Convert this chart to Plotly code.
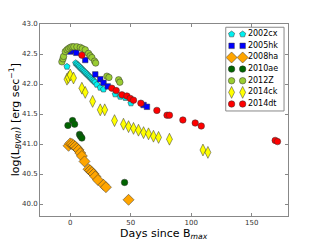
import plotly.graph_objects as go

# 2002cx
cx_x = [-2.7, 4.5, 5.5, 6.5, 7.5, 8.5, 9.5, 10.5, 11.5, 12.5, 13.5, 14.5, 15.5, 16.5, 17.5, 18.5, 19.5, 20.5, 22.0, 24.8, 27.5, 37.2, 41.3, 45.5, 50.2]
cx_y = [42.29, 42.35, 42.33, 42.31, 42.29, 42.27, 42.25, 42.23, 42.21, 42.19, 42.17, 42.15, 42.13, 42.11, 42.09, 42.07, 42.05, 42.03, 41.99, 41.94, 41.91, 41.83, 41.79, 41.77, 41.68]
# 2005hk
hk_x = [0.0, 2.7, 5.0, 12.4, 20.7, 24.8, 27.5, 31.0, 60.6, 63.4]
hk_y = [42.54, 42.56, 42.52, 42.40, 42.16, 42.08, 42.02, 41.96, 41.65, 41.62]
# 2008ha
ha_x = [-1.4, 0.0, 1.4, 2.7, 4.1, 5.5, 6.9, 8.3, 9.6, 11.8, 15.1, 16.5, 17.9, 19.3, 20.7, 22.9, 27.5, 29.5, 48.2]
ha_y = [40.97, 41.01, 41.00, 40.98, 40.96, 40.93, 40.90, 40.85, 40.80, 40.71, 40.58, 40.56, 40.53, 40.50, 40.46, 40.40, 40.32, 40.28, 40.07]
# 2010ae
ae_x = [-1.9, 1.9, 3.6, 7.7, 8.5, 9.6, 44.9]
ae_y = [41.31, 41.39, 41.33, 41.16, 41.13, 41.10, 40.36]
# 2012Z
z_x = [-6.9, -6.0, -5.5, -4.1, -2.7, -1.4, 0.0, 1.4, 3.0, 5.5, 8.3, 10.0, 12.4, 15.1, 16.5, 17.9, 20.1, 21.0, 30.3, 32.0, 40.0, 41.0]
z_y = [42.37, 42.42, 42.46, 42.54, 42.57, 42.59, 42.61, 42.62, 42.62, 42.62, 42.61, 42.59, 42.57, 42.51, 42.47, 42.44, 42.38, 42.35, 42.13, 42.11, 42.07, 42.03]
# 2014ck
ck_x = [-2.7, -1.5, 0.0, 2.7, 9.6, 12.4, 18.5, 24.8, 28.5, 36.6, 44.0, 48.2, 52.3, 56.4, 60.6, 64.7, 68.8, 73.0, 82.0, 109.7, 113.8]
ck_y = [42.08, 42.11, 42.15, 42.10, 41.93, 41.86, 41.71, 41.57, 41.57, 41.39, 41.33, 41.29, 41.26, 41.23, 41.19, 41.17, 41.13, 41.11, 41.08, 40.90, 40.86]
# 2014dt
dt_x = [9.6, 34.4, 38.0, 42.7, 46.8, 49.6, 52.3, 58.4, 71.6, 80.0, 82.0, 93.1, 103.3, 108.3, 169.4, 171.3]
dt_y = [42.48, 41.93, 41.89, 41.82, 41.80, 41.76, 41.73, 41.68, 41.56, 41.48, 41.48, 41.40, 41.35, 41.30, 41.06, 41.04]

names = ["2002cx", "2005hk", "2008ha", "2010ae", "2012Z", "2014ck", "2014dt"]
x_ticks = [0, 50, 100, 150]
y_ticks = [40.0, 40.5, 41.0, 41.5, 42.0, 42.5, 43.0]

styles = {
    "2002cx": ("#00f0f0", "pentagon", 6.5),
    "2005hk": ("#0000ff", "square", 5.5),
    "2008ha": ("#ffa500", "diamond", 8.5),
    "2010ae": ("#006400", "circle", 6.5),
    "2012Z": ("#9acd32", "circle", 6.5),
    "2014ck": ("#ffff00", "diamond-tall", 8.5),
    "2014dt": ("#ff0000", "circle", 6.5),
}
data = {
    "2002cx": (cx_x, cx_y), "2005hk": (hk_x, hk_y), "2008ha": (ha_x, ha_y),
    "2010ae": (ae_x, ae_y), "2012Z": (z_x, z_y), "2014ck": (ck_x, ck_y),
    "2014dt": (dt_x, dt_y),
}

fig = go.Figure()
for name in names:
    col, sym, sz = styles[name]
    xs, ys = data[name]
    fig.add_trace(go.Scatter(
        x=xs, y=ys, mode="markers", name=name, showlegend=False,
        marker=dict(color=col, symbol=sym, size=sz, line=dict(color="#333333", width=0.5)),
    ))

# matplotlib-style legend (two markers per entry) on an overlay axis
for name in names:
    col, sym, sz = styles[name]
    fig.add_trace(go.Scatter(
        x=[1, 2.9], y=[name, name], mode="markers", showlegend=False, hoverinfo="skip",
        xaxis="x2", yaxis="y2",
        marker=dict(color=col, symbol=sym, size=sz, line=dict(color="#333333", width=0.5)),
    ))
    fig.add_trace(go.Scatter(
        x=[3.8], y=[name], mode="text", text=[name], textposition="middle right",
        textfont=dict(family="DejaVu Sans", size=8, color="#000"),
        showlegend=False, hoverinfo="skip", xaxis="x2", yaxis="y2",
    ))

axis_common = dict(
    showgrid=False, zeroline=False, showline=True, linecolor="#888888", linewidth=1,
    mirror="ticks", ticks="inside", ticklen=3, tickcolor="#888888", automargin=False,
    tickfont=dict(family="DejaVu Sans", size=7, color="#333333"),
)
fig.update_layout(
    xaxis=dict(range=[-25, 180], tickvals=x_ticks, **axis_common),
    yaxis=dict(range=[39.8, 43.0], tickvals=y_ticks, tickformat=".1f", **axis_common),
    xaxis2=dict(domain=[0.749, 0.984], range=[0, 10], anchor="y2", visible=False, fixedrange=True),
    yaxis2=dict(domain=[0.547, 0.983], type="category", categoryarray=names,
                range=[6.6, -0.6], anchor="x2", visible=False, fixedrange=True),
    width=320, height=240,
    margin=dict(l=40, r=32, t=24, b=24),
    paper_bgcolor="white", plot_bgcolor="white",
    showlegend=False,
    shapes=[dict(type="rect", xref="paper", yref="paper", x0=0.749, x1=0.984, y0=0.547, y1=0.983,
                 line=dict(color="#888888", width=1), fillcolor="rgba(0,0,0,0)", layer="above")],
    annotations=[
        dict(text="Days since B<sub><i>max</i></sub>", xref="paper", yref="paper",
             x=0.5, y=-0.093, xanchor="center", yanchor="middle", showarrow=False,
             font=dict(family="DejaVu Sans", size=11, color="#000")),
        dict(text="log(L<sub><i>BVRI</i></sub>) [erg sec<sup>−1</sup>]", xref="paper", yref="paper",
             x=-0.1, y=0.5, xanchor="center", yanchor="middle", textangle=-90, showarrow=False,
             font=dict(family="DejaVu Sans", size=11, color="#000")),
    ],
)

fig.write_html("out.html", config={"displayModeBar": False},
               post_script="document.body.style.margin='0px';")
